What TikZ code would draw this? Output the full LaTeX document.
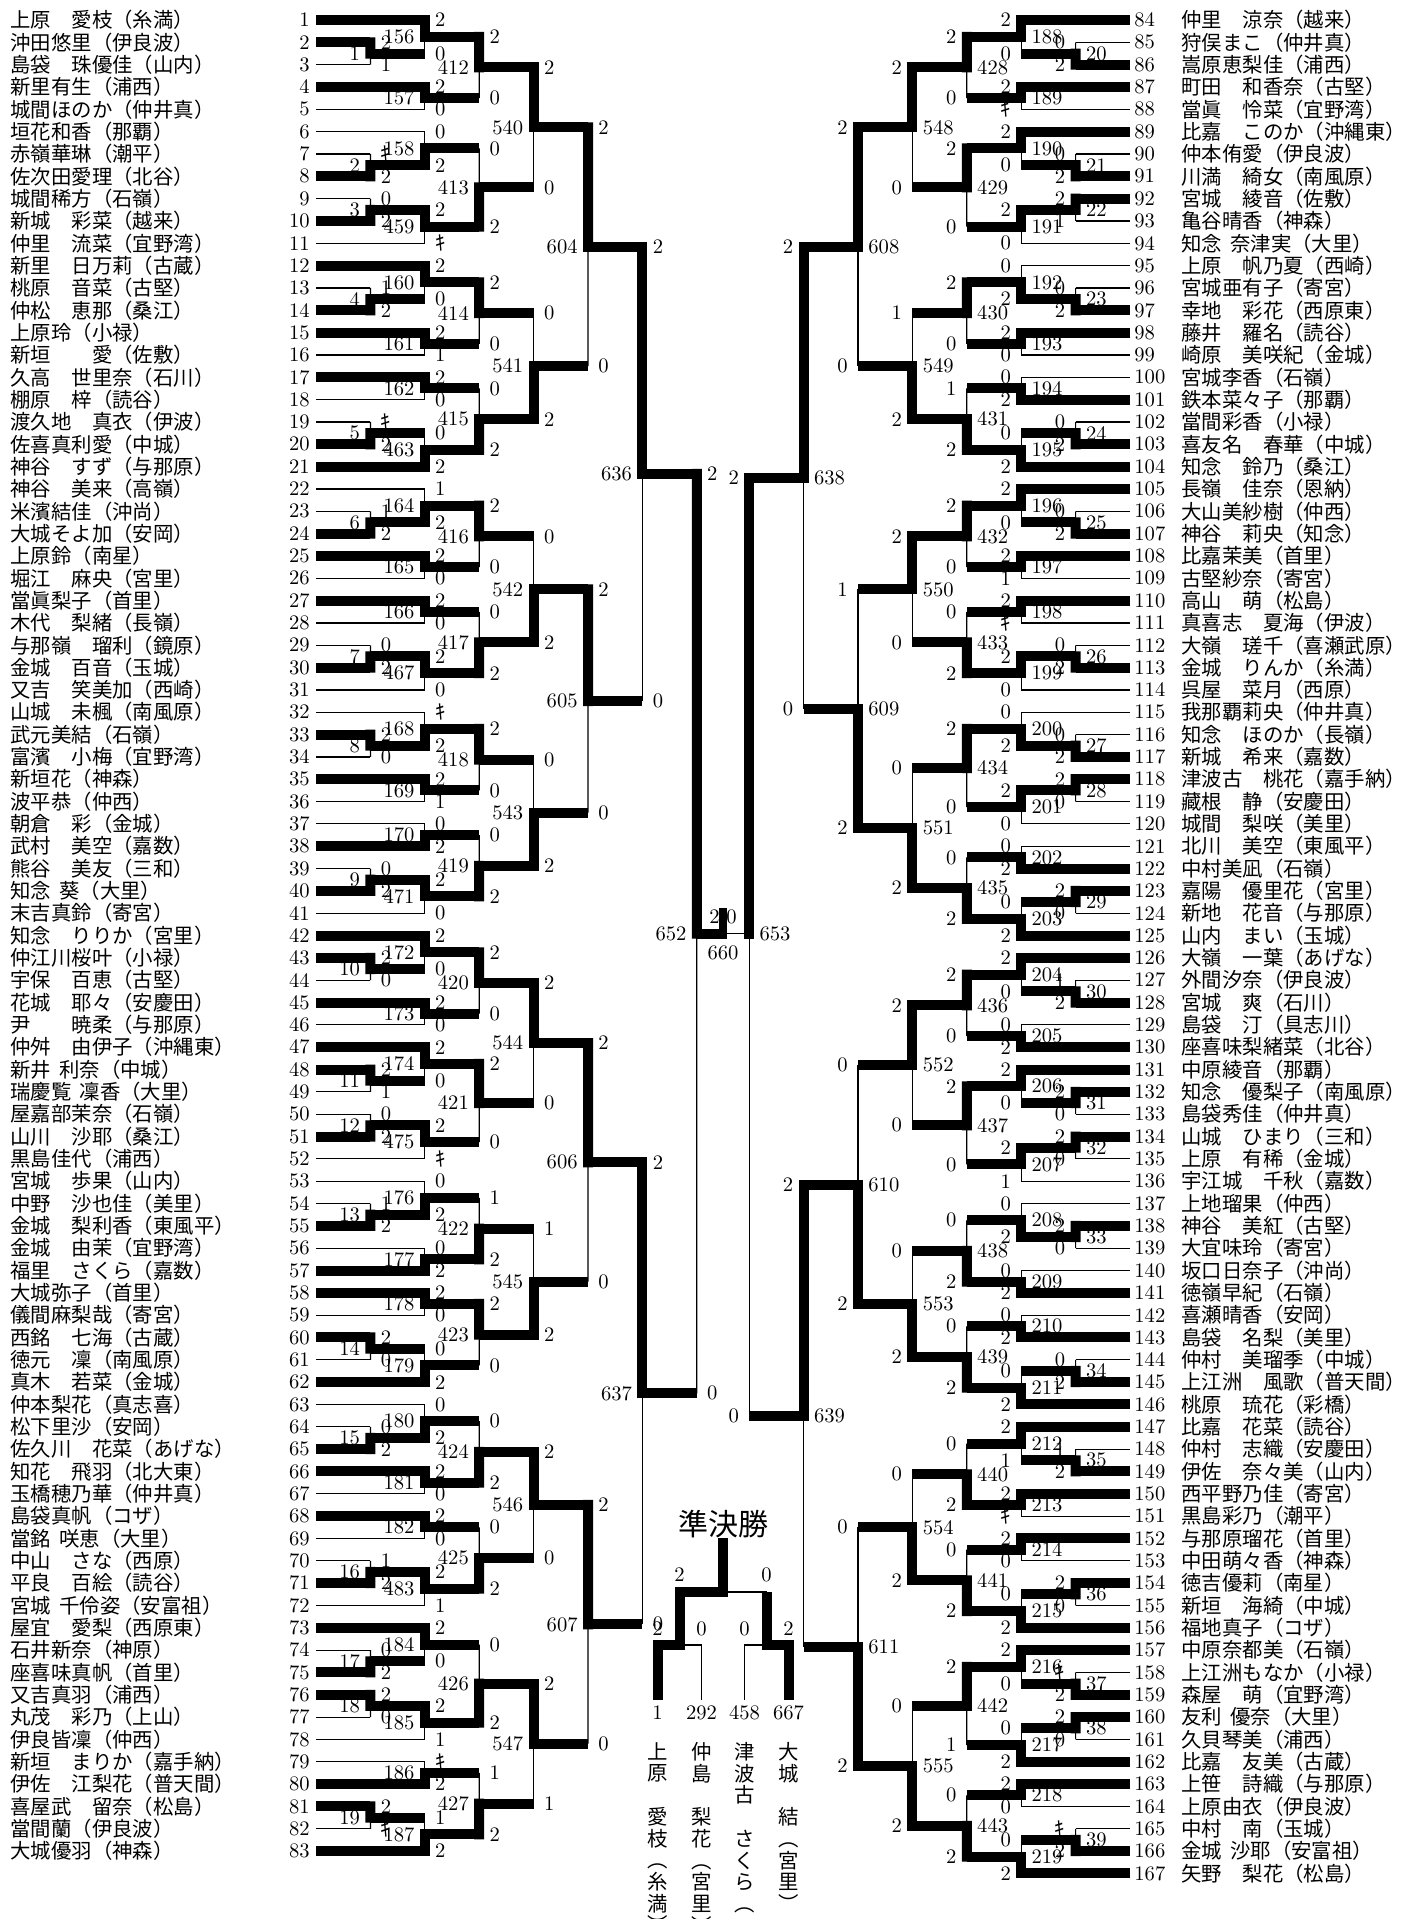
\documentclass[tikz,border=0pt]{standalone}
\usepackage{fontspec}
\newfontfamily\cjk{Noto Sans CJK JP}
\usetikzlibrary{calc}
\def\firstchar#1#2\relax{#1}
\newcommand\kk{{\cjk ｷ}}
\newcommand\hs{\hspace{0.4em}}
\tikzset{
 thk/.style={line width=5pt, line cap=butt},
 thkv/.style={line width=5pt, line cap=rect},
 thn/.style={line width=0.6pt},
 sc/.style={font=\fontsize{10.3}{12}\selectfont, inner sep=0pt},
 nm/.style={font=\cjk\fontsize{10.2}{12}\selectfont, inner sep=0pt, anchor=west},
 vn/.style={font=\cjk\fontsize{10.2}{10.85}\selectfont, inner sep=0pt, anchor=north, align=center},
}
\newcommand\hseg[3]{\if p\firstchar#1\relax
  \ifnum#3=1 \draw[thk] (#1) -- (#1 -| #2);\else\draw[thn] (#1) -- (#1 -| #2);\fi
  \else\draw[thk] (#1) -- (#1 -| #2);\fi}
\newcommand\mtlines[4]{%
  \hseg{#3}{#4}{0}\hseg{#2}{#4}{1}%
  \draw[thn] (#3 -| #4) -- (#1);
  \draw[thkv] (#2 -| #4) -- (#1);}
\newcommand\mtc[8]{%
  \coordinate (#1) at ($(#2 -| #4)!0.5!(#3 -| #4)$);
  \ifnum#5=1 \mtlines{#1}{#2}{#3}{#4}\else\mtlines{#1}{#3}{#2}{#4}\fi
  \node[sc, anchor=\sa, xshift=\sxs] (#1a) at (#2 -| #4) {#6};
  \node[sc, anchor=\sa, xshift=\sxs] (#1b) at (#3 -| #4) {#7};
  \node[sc, anchor=\la, xshift=\lxs] (#1l) at (#1) {#8};}
\newcommand\ML{\def\sa{west}\def\la{east}\def\sxs{5pt}\def\lxs{-5pt}\mtc}
\newcommand\MR{\def\sa{east}\def\la{west}\def\sxs{-5pt}\def\lxs{5pt}\mtc}
\begin{document}
\begin{tikzpicture}[x=0.5pt,y=-0.5pt]
\fill[white] (0,0) rectangle (1422,1919);
\path[use as bounding box] (0,0) rectangle (1422,1919);
% columns
\foreach \k in {0,...,7}{
  \coordinate (L\k) at ({316+54.4*\k},0);
  \coordinate (R\k) at ({1130-54.4*\k},0);}
\coordinate (C) at (723,0);
% players left
\foreach \i in {1,...,83}{
  \coordinate (p\i) at (316,{20+(\i-1)*22.33});
  \node[sc, anchor=east] (nl\i) at (310,{20+(\i-1)*22.33}) {\i};}
\foreach \i in {84,...,167}{
  \coordinate (p\i) at (1130,{20+(\i-84)*22.33});
  \node[sc, anchor=west] (nr\i) at (1134,{20+(\i-84)*22.33}) {\i};}
\foreach \nmx [count=\i] in {上原　愛枝（糸満）,沖田悠里（伊良波）,島袋　珠優佳（山内）,新里有生（浦西）,城間ほのか（仲井真）,垣花和香（那覇）,赤嶺華琳（潮平）,佐次田愛理（北谷）,城間稀方（石嶺）,新城　彩菜（越来）,
仲里　流菜（宜野湾）,新里　日万莉（古蔵）,桃原　音菜（古堅）,仲松　恵那（桑江）,上原玲（小禄）,新垣　　愛（佐敷）,久高　世里奈（石川）,棚原　梓（読谷）,渡久地　真衣（伊波）,佐喜真利愛（中城）,
神谷　すず（与那原）,神谷　美来（高嶺）,米濱結佳（沖尚）,大城そよ加（安岡）,上原鈴（南星）,堀江　麻央（宮里）,當眞梨子（首里）,木代　梨緒（長嶺）,与那嶺　瑠利（鏡原）,金城　百音（玉城）,
又吉　笑美加（西崎）,山城　未楓（南風原）,武元美結（石嶺）,富濱　小梅（宜野湾）,新垣花（神森）,波平恭（仲西）,朝倉　彩（金城）,武村　美空（嘉数）,熊谷　美友（三和）,知念\hs 葵（大里）,
末吉真鈴（寄宮）,知念　りりか（宮里）,仲江川桜叶（小禄）,宇保　百恵（古堅）,花城　耶々（安慶田）,尹　　暁柔（与那原）,仲舛　由伊子（沖縄東）,新井\hs 利奈（中城）,瑞慶覧\hs 凜香（大里）,屋嘉部茉奈（石嶺）,
山川　沙耶（桑江）,黒島佳代（浦西）,宮城　歩果（山内）,中野　沙也佳（美里）,金城　梨利香（東風平）,金城　由茉（宜野湾）,福里　さくら（嘉数）,大城弥子（首里）,儀間麻梨哉（寄宮）,西銘　七海（古蔵）,
徳元　凜（南風原）,真木　若菜（金城）,仲本梨花（真志喜）,松下里沙（安岡）,佐久川　花菜（あげな）,知花　飛羽（北大東）,玉橋穂乃華（仲井真）,島袋真帆（コザ）,當銘\hs 咲恵（大里）,中山　さな（西原）,
平良　百絵（読谷）,宮城\hs 千伶姿（安富祖）,屋宜　愛梨（西原東）,石井新奈（神原）,座喜味真帆（首里）,又吉真羽（浦西）,丸茂　彩乃（上山）,伊良皆凜（仲西）,新垣　まりか（嘉手納）,伊佐　江梨花（普天間）,
喜屋武　留奈（松島）,當間蘭（伊良波）,大城優羽（神森）}{
  \node[nm] (tl\i) at (10,{20+(\i-1)*22.33}) {\nmx};}
\foreach \nmx [count=\i from 84] in {仲里　涼奈（越来）,狩俣まこ（仲井真）,嵩原恵梨佳（浦西）,町田　和香奈（古堅）,當眞　怜菜（宜野湾）,比嘉　このか（沖縄東）,仲本侑愛（伊良波）,川満　綺女（南風原）,宮城　綾音（佐敷）,亀谷晴香（神森）,
知念\hs 奈津実（大里）,上原　帆乃夏（西崎）,宮城亜有子（寄宮）,幸地　彩花（西原東）,藤井　羅名（読谷）,崎原　美咲紀（金城）,宮城李香（石嶺）,鉄本菜々子（那覇）,當間彩香（小禄）,喜友名　春華（中城）,
知念　鈴乃（桑江）,長嶺　佳奈（恩納）,大山美紗樹（仲西）,神谷　莉央（知念）,比嘉茉美（首里）,古堅紗奈（寄宮）,高山　萌（松島）,真喜志　夏海（伊波）,大嶺　瑳千（喜瀬武原）,金城　りんか（糸満）,
呉屋　菜月（西原）,我那覇莉央（仲井真）,知念　ほのか（長嶺）,新城　希来（嘉数）,津波古　桃花（嘉手納）,藏根　静（安慶田）,城間　梨咲（美里）,北川　美空（東風平）,中村美凪（石嶺）,嘉陽　優里花（宮里）,
新地　花音（与那原）,山内　まい（玉城）,大嶺　一葉（あげな）,外間汐奈（伊良波）,宮城　爽（石川）,島袋　汀（具志川）,座喜味梨緒菜（北谷）,中原綾音（那覇）,知念　優梨子（南風原）,島袋秀佳（仲井真）,
山城　ひまり（三和）,上原　有稀（金城）,宇江城　千秋（嘉数）,上地瑠果（仲西）,神谷　美紅（古堅）,大宜味玲（寄宮）,坂口日奈子（沖尚）,徳嶺早紀（石嶺）,喜瀬晴香（安岡）,島袋　名梨（美里）,
仲村　美瑠季（中城）,上江洲　風歌（普天間）,桃原　琉花（彩橋）,比嘉　花菜（読谷）,仲村　志織（安慶田）,伊佐　奈々美（山内）,西平野乃佳（寄宮）,黒島彩乃（潮平）,与那原瑠花（首里）,中田萌々香（神森）,
徳吉優莉（南星）,新垣　海綺（中城）,福地真子（コザ）,中原奈都美（石嶺）,上江洲もなか（小禄）,森屋　萌（宜野湾）,友利\hs 優奈（大里）,久貝琴美（浦西）,比嘉　友美（古蔵）,上笹　詩織（与那原）,
上原由衣（伊良波）,中村　南（玉城）,金城\hs 沙耶（安富祖）,矢野　梨花（松島）}{
  \node[nm] (tr\i) at (1181,{20+(\i-84)*22.33}) {\nmx};}
% ---------- left bracket ----------
\ML{m1}{p2}{p3}{L1}{1}{2}{1}{1}
\ML{m156}{p1}{m1}{L2}{1}{2}{0}{156}
\ML{m157}{p4}{p5}{L2}{1}{2}{0}{157}
\ML{m412}{m156}{m157}{L3}{1}{2}{0}{412}
\ML{m2}{p7}{p8}{L1}{2}{\kk}{2}{2}
\ML{m158}{p6}{m2}{L2}{2}{0}{2}{158}
\ML{m3}{p9}{p10}{L1}{2}{0}{2}{3}
\ML{m459}{m3}{p11}{L2}{1}{2}{\kk}{459}
\ML{m413}{m158}{m459}{L3}{2}{0}{2}{413}
\ML{m540}{m412}{m413}{L4}{1}{2}{0}{540}
\ML{m4}{p13}{p14}{L1}{2}{1}{2}{4}
\ML{m160}{p12}{m4}{L2}{1}{2}{0}{160}
\ML{m161}{p15}{p16}{L2}{1}{2}{1}{161}
\ML{m414}{m160}{m161}{L3}{1}{2}{0}{414}
\ML{m162}{p17}{p18}{L2}{1}{2}{0}{162}
\ML{m5}{p19}{p20}{L1}{2}{\kk}{2}{5}
\ML{m463}{m5}{p21}{L2}{2}{0}{2}{463}
\ML{m415}{m162}{m463}{L3}{2}{0}{2}{415}
\ML{m541}{m414}{m415}{L4}{2}{0}{2}{541}
\ML{m604}{m540}{m541}{L5}{1}{2}{0}{604}
\ML{m6}{p23}{p24}{L1}{2}{1}{2}{6}
\ML{m164}{p22}{m6}{L2}{2}{1}{2}{164}
\ML{m165}{p25}{p26}{L2}{1}{2}{0}{165}
\ML{m416}{m164}{m165}{L3}{1}{2}{0}{416}
\ML{m166}{p27}{p28}{L2}{1}{2}{0}{166}
\ML{m7}{p29}{p30}{L1}{2}{0}{2}{7}
\ML{m467}{m7}{p31}{L2}{1}{2}{0}{467}
\ML{m417}{m166}{m467}{L3}{2}{0}{2}{417}
\ML{m542}{m416}{m417}{L4}{2}{0}{2}{542}
\ML{m8}{p33}{p34}{L1}{1}{2}{0}{8}
\ML{m168}{p32}{m8}{L2}{2}{\kk}{2}{168}
\ML{m169}{p35}{p36}{L2}{1}{2}{1}{169}
\ML{m418}{m168}{m169}{L3}{1}{2}{0}{418}
\ML{m170}{p37}{p38}{L2}{2}{0}{2}{170}
\ML{m9}{p39}{p40}{L1}{2}{0}{2}{9}
\ML{m471}{m9}{p41}{L2}{1}{2}{0}{471}
\ML{m419}{m170}{m471}{L3}{2}{0}{2}{419}
\ML{m543}{m418}{m419}{L4}{2}{0}{2}{543}
\ML{m605}{m542}{m543}{L5}{1}{2}{0}{605}
\ML{m636}{m604}{m605}{L6}{1}{2}{0}{636}
\ML{m10}{p43}{p44}{L1}{1}{2}{0}{10}
\ML{m172}{p42}{m10}{L2}{1}{2}{0}{172}
\ML{m173}{p45}{p46}{L2}{1}{2}{0}{173}
\ML{m420}{m172}{m173}{L3}{1}{2}{0}{420}
\ML{m11}{p48}{p49}{L1}{1}{2}{1}{11}
\ML{m174}{p47}{m11}{L2}{1}{2}{0}{174}
\ML{m12}{p50}{p51}{L1}{2}{0}{2}{12}
\ML{m475}{m12}{p52}{L2}{1}{2}{\kk}{475}
\ML{m421}{m174}{m475}{L3}{1}{2}{0}{421}
\ML{m544}{m420}{m421}{L4}{1}{2}{0}{544}
\ML{m13}{p54}{p55}{L1}{2}{1}{2}{13}
\ML{m176}{p53}{m13}{L2}{2}{0}{2}{176}
\ML{m177}{p56}{p57}{L2}{2}{0}{2}{177}
\ML{m422}{m176}{m177}{L3}{2}{1}{2}{422}
\ML{m178}{p58}{p59}{L2}{1}{2}{0}{178}
\ML{m14}{p60}{p61}{L1}{1}{2}{0}{14}
\ML{m179}{m14}{p62}{L2}{2}{0}{2}{179}
\ML{m423}{m178}{m179}{L3}{1}{2}{0}{423}
\ML{m545}{m422}{m423}{L4}{2}{1}{2}{545}
\ML{m606}{m544}{m545}{L5}{1}{2}{0}{606}
\ML{m15}{p64}{p65}{L1}{2}{0}{2}{15}
\ML{m180}{p63}{m15}{L2}{2}{0}{2}{180}
\ML{m181}{p66}{p67}{L2}{1}{2}{0}{181}
\ML{m424}{m180}{m181}{L3}{2}{0}{2}{424}
\ML{m182}{p68}{p69}{L2}{1}{2}{0}{182}
\ML{m16}{p70}{p71}{L1}{2}{1}{2}{16}
\ML{m483}{m16}{p72}{L2}{1}{2}{1}{483}
\ML{m425}{m182}{m483}{L3}{2}{0}{2}{425}
\ML{m546}{m424}{m425}{L4}{1}{2}{0}{546}
\ML{m17}{p74}{p75}{L1}{2}{0}{2}{17}
\ML{m184}{p73}{m17}{L2}{1}{2}{0}{184}
\ML{m18}{p76}{p77}{L1}{1}{2}{0}{18}
\ML{m185}{m18}{p78}{L2}{1}{2}{1}{185}
\ML{m426}{m184}{m185}{L3}{2}{0}{2}{426}
\ML{m186}{p79}{p80}{L2}{2}{\kk}{2}{186}
\ML{m19}{p81}{p82}{L1}{1}{2}{\kk}{19}
\ML{m187}{m19}{p83}{L2}{2}{1}{2}{187}
\ML{m427}{m186}{m187}{L3}{2}{1}{2}{427}
\ML{m547}{m426}{m427}{L4}{1}{2}{1}{547}
\ML{m607}{m546}{m547}{L5}{1}{2}{0}{607}
\ML{m637}{m606}{m607}{L6}{1}{2}{0}{637}
\ML{m652}{m636}{m637}{L7}{1}{2}{0}{652}
% ---------- right bracket ----------
\MR{m20}{p85}{p86}{R1}{2}{0}{2}{20}
\MR{m188}{p84}{m20}{R2}{1}{2}{0}{188}
\MR{m189}{p87}{p88}{R2}{1}{2}{\kk}{189}
\MR{m428}{m188}{m189}{R3}{1}{2}{0}{428}
\MR{m21}{p90}{p91}{R1}{2}{0}{2}{21}
\MR{m190}{p89}{m21}{R2}{1}{2}{0}{190}
\MR{m22}{p92}{p93}{R1}{1}{2}{1}{22}
\MR{m191}{m22}{p94}{R2}{1}{2}{0}{191}
\MR{m429}{m190}{m191}{R3}{1}{2}{0}{429}
\MR{m548}{m428}{m429}{R4}{1}{2}{0}{548}
\MR{m23}{p96}{p97}{R1}{2}{0}{2}{23}
\MR{m192}{p95}{m23}{R2}{2}{0}{2}{192}
\MR{m193}{p98}{p99}{R2}{1}{2}{0}{193}
\MR{m430}{m192}{m193}{R3}{1}{2}{0}{430}
\MR{m194}{p100}{p101}{R2}{2}{0}{2}{194}
\MR{m24}{p102}{p103}{R1}{2}{0}{2}{24}
\MR{m195}{m24}{p104}{R2}{2}{0}{2}{195}
\MR{m431}{m194}{m195}{R3}{2}{1}{2}{431}
\MR{m549}{m430}{m431}{R4}{2}{1}{2}{549}
\MR{m608}{m548}{m549}{R5}{1}{2}{0}{608}
\MR{m25}{p106}{p107}{R1}{2}{0}{2}{25}
\MR{m196}{p105}{m25}{R2}{1}{2}{0}{196}
\MR{m197}{p108}{p109}{R2}{1}{2}{1}{197}
\MR{m432}{m196}{m197}{R3}{1}{2}{0}{432}
\MR{m198}{p110}{p111}{R2}{1}{2}{\kk}{198}
\MR{m26}{p112}{p113}{R1}{2}{0}{2}{26}
\MR{m199}{m26}{p114}{R2}{1}{2}{0}{199}
\MR{m433}{m198}{m199}{R3}{2}{0}{2}{433}
\MR{m550}{m432}{m433}{R4}{1}{2}{0}{550}
\MR{m27}{p116}{p117}{R1}{2}{0}{2}{27}
\MR{m200}{p115}{m27}{R2}{2}{0}{2}{200}
\MR{m28}{p118}{p119}{R1}{1}{2}{0}{28}
\MR{m201}{m28}{p120}{R2}{1}{2}{0}{201}
\MR{m434}{m200}{m201}{R3}{1}{2}{0}{434}
\MR{m202}{p121}{p122}{R2}{2}{0}{2}{202}
\MR{m29}{p123}{p124}{R1}{1}{2}{0}{29}
\MR{m203}{m29}{p125}{R2}{2}{0}{2}{203}
\MR{m435}{m202}{m203}{R3}{2}{0}{2}{435}
\MR{m551}{m434}{m435}{R4}{2}{0}{2}{551}
\MR{m609}{m550}{m551}{R5}{2}{1}{2}{609}
\MR{m638}{m608}{m609}{R6}{1}{2}{0}{638}
\MR{m30}{p127}{p128}{R1}{2}{1}{2}{30}
\MR{m204}{p126}{m30}{R2}{1}{2}{0}{204}
\MR{m205}{p129}{p130}{R2}{2}{0}{2}{205}
\MR{m436}{m204}{m205}{R3}{1}{2}{0}{436}
\MR{m31}{p132}{p133}{R1}{1}{2}{0}{31}
\MR{m206}{p131}{m31}{R2}{1}{2}{0}{206}
\MR{m32}{p134}{p135}{R1}{1}{2}{0}{32}
\MR{m207}{m32}{p136}{R2}{1}{2}{1}{207}
\MR{m437}{m206}{m207}{R3}{1}{2}{0}{437}
\MR{m552}{m436}{m437}{R4}{1}{2}{0}{552}
\MR{m33}{p138}{p139}{R1}{1}{2}{0}{33}
\MR{m208}{p137}{m33}{R2}{2}{0}{2}{208}
\MR{m209}{p140}{p141}{R2}{2}{0}{2}{209}
\MR{m438}{m208}{m209}{R3}{2}{0}{2}{438}
\MR{m210}{p142}{p143}{R2}{2}{0}{2}{210}
\MR{m34}{p144}{p145}{R1}{2}{0}{2}{34}
\MR{m211}{m34}{p146}{R2}{2}{0}{2}{211}
\MR{m439}{m210}{m211}{R3}{2}{0}{2}{439}
\MR{m553}{m438}{m439}{R4}{2}{0}{2}{553}
\MR{m610}{m552}{m553}{R5}{2}{0}{2}{610}
\MR{m35}{p148}{p149}{R1}{2}{1}{2}{35}
\MR{m212}{p147}{m35}{R2}{1}{2}{1}{212}
\MR{m213}{p150}{p151}{R2}{1}{2}{\kk}{213}
\MR{m440}{m212}{m213}{R3}{2}{0}{2}{440}
\MR{m214}{p152}{p153}{R2}{1}{2}{0}{214}
\MR{m36}{p154}{p155}{R1}{1}{2}{0}{36}
\MR{m215}{m36}{p156}{R2}{2}{0}{2}{215}
\MR{m441}{m214}{m215}{R3}{2}{0}{2}{441}
\MR{m554}{m440}{m441}{R4}{2}{0}{2}{554}
\MR{m37}{p158}{p159}{R1}{2}{\kk}{2}{37}
\MR{m216}{p157}{m37}{R2}{1}{2}{0}{216}
\MR{m38}{p160}{p161}{R1}{1}{2}{0}{38}
\MR{m217}{m38}{p162}{R2}{2}{0}{2}{217}
\MR{m442}{m216}{m217}{R3}{1}{2}{1}{442}
\MR{m218}{p163}{p164}{R2}{1}{2}{0}{218}
\MR{m39}{p165}{p166}{R1}{2}{\kk}{2}{39}
\MR{m219}{m39}{p167}{R2}{2}{0}{2}{219}
\MR{m443}{m218}{m219}{R3}{2}{0}{2}{443}
\MR{m555}{m442}{m443}{R4}{2}{0}{2}{555}
\MR{m611}{m554}{m555}{R5}{2}{0}{2}{611}
\MR{m639}{m610}{m611}{R6}{1}{2}{}{639}
% 653 (drawn level with 652)
\coordinate (m653) at (m652 -| R7);
\hseg{m639}{R7}{0}\hseg{m638}{R7}{1}
\draw[thn] (m639 -| R7) -- (m653);
\draw[thkv] (m638 -| R7) -- (m653);
\node[sc, anchor=east, xshift=-5pt] (m653a) at (m638 -| R7) {2};
\node[sc, anchor=east, xshift=-5pt] (m653b) at (m639 -| R7) {0};
\node[sc, anchor=west, xshift=5pt] (m653l) at (m653) {653};
% 660
\coordinate (m660) at (m652 -| C);
\draw[thk] (m652) -- (m660);
\draw[thn] (m653) -- (m653 -| C);
\draw[line width=4pt] ($(m660)+(0,5)$) -- ($(m660)+(0,-26)$);
\node[sc, anchor=east] (m660a) at ($(m660)+(-3,-17)$) {2};
\node[sc, anchor=west] (m660b) at ($(m660)+(3,-17)$) {0};
\node[sc] (m660l) at ($(m660)+(0,19)$) {660};
% ---------- semifinal ----------
\node[font=\cjk\fontsize{15}{18}\selectfont, inner sep=0pt] (sftitle) at (723,1524) {準決勝};
\coordinate (s1) at (657.5,1700); \coordinate (s292) at (701.5,1700);
\coordinate (s458) at (744.5,1700); \coordinate (s667) at (788.5,1700);
\coordinate (sa) at (679.5,1645); \coordinate (sb) at (766.5,1645);
\coordinate (sf) at (723,1592); \coordinate (st) at (723,1538);
\draw[thn] (s292) -- (s292 |- sa) -- (sa);
\draw[thn] (s458) -- (s458 |- sb) -- (sb);
\draw[thn] (sb |- sf) -- (sf);
\draw[thk, line join=miter] (s1) -- (s1 |- sa) -- (sa) -- (sa |- sf) -- (sf) -- (st);
\draw[thk, line join=miter] (s667) -- (s667 |- sb) -- (sb) -- (sb |- sf);
\node[sc] (sfa) at (679.5,1575) {2};
\node[sc] (sfb) at (766.5,1575) {0};
\node[sc] (sca) at (657.5,1629) {2};
\node[sc] (scb) at (701.5,1629) {0};
\node[sc] (scc) at (744.5,1629) {0};
\node[sc] (scd) at (788.5,1629) {2};
\node[sc] (sn1) at (657.5,1713) {1};
\node[sc] (sn2) at (701.5,1713) {292};
\node[sc] (sn3) at (744.5,1713) {458};
\node[sc] (sn4) at (788.5,1713) {667};
\node[vn] (sv1) at (657.5,1742) {上\\原\\　\\愛\\枝\\︵\\糸\\満\\︶};
\node[vn] (sv2) at (701.5,1742) {仲\\島\\　\\梨\\花\\︵\\宮\\里\\︶};
\node[vn] (sv3) at (744.5,1742) {津\\波\\古\\　\\さ\\く\\ら\\︵};
\node[vn] (sv4) at (788.5,1742) {大\\城\\　\\結\\︵\\宮\\里\\︶};
\end{tikzpicture}
\end{document}
